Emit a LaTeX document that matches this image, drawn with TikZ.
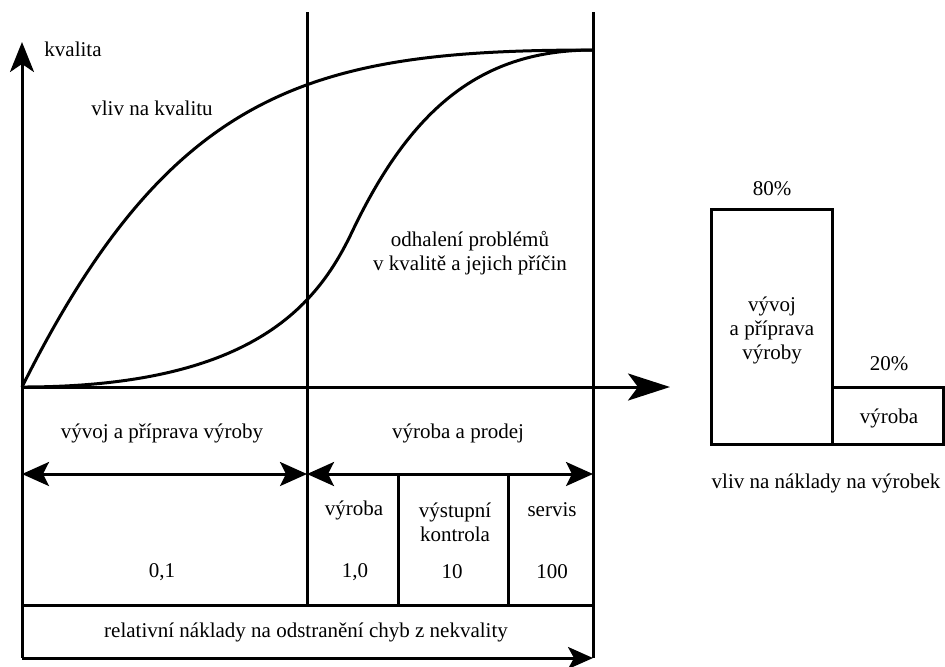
\documentclass[tikz,border=0pt]{standalone}
\usepackage{fontspec}
\setmainfont{Liberation Serif}
\newfontfamily\czserif{Liberation Serif}
\usetikzlibrary{arrows.meta}
\tikzset{
  line/.style={line width=1.5pt},
  axis/.style={line width=1.5pt, -{Stealth[length=15pt,width=12pt,inset=4pt]}},
  longaxis/.style={line width=1.5pt, -{Stealth[length=21pt,width=13.5pt,inset=5pt]}},
  spanarrow/.style={line width=1.5pt, {Stealth[length=13.5pt,width=12pt,inset=3pt]}-{Stealth[length=13.5pt,width=12pt,inset=3pt]}},
  costarrow/.style={line width=1.5pt, -{Stealth[length=12.5pt,width=11pt,inset=3pt]}},
  txt/.style={font=\czserif\fontsize{10.5}{12}\selectfont, inner sep=0pt, align=center},
}
\begin{document}
\begin{tikzpicture}[x=0.5pt, y=-0.5pt]
    \useasboundingbox (0,0) rectangle (945,666);
    \coordinate (o) at (22,387);
    \coordinate (ytop) at (22,42);
    \coordinate (xend) at (670,387);
    \coordinate (midtop) at (307,12);
    \coordinate (midbot) at (307,605);
    \coordinate (righttop) at (593,12);
    \coordinate (rightbot) at (593,658);
    \coordinate (leftbot) at (22,658);
    \coordinate (peak) at (593,50);
    \coordinate (infl) at (352,232);

    % Osy
    \draw[axis] (o) -- (ytop);
    \draw[longaxis] (o) -- (xend);
    \node[txt] (kval) at (73,49) {kvalita};

    % Svisle cary
    \draw[line] (midtop) -- (midbot);
    \draw[line] (righttop) -- (rightbot);
    \draw[line] (o) -- (leftbot);

    % Krivky
    \draw[line] (o) .. controls (172,87) and (313,50) .. (peak);
    \draw[line] (o) .. controls (252,387) and (317,305.5) .. (infl)
                    .. controls (412,106) and (483,50) .. (peak);
    \node[txt] (vliv) at (152,108) {vliv na kvalitu};
    \node[txt] (odhal) at (470,253) {odhalení problémů\\v kvalitě a jejich příčin};

    % Etapy
    \node[txt] (vyvoj) at (162,433) {vývoj a příprava výroby};
    \node[txt] (prodej) at (458,433) {výroba a prodej};
    \coordinate (a1) at (22,474);
    \coordinate (a2) at (307,474);
    \coordinate (a3) at (593,474);
    \draw[spanarrow] (a1) -- (a2);
    \draw[spanarrow] (a2) -- (a3);

    % Naklady
    \coordinate (s1) at (398,474);
    \coordinate (s2) at (508,474);
    \draw[line] (s1) -- (s1 |- midbot);
    \draw[line] (s2) -- (s2 |- midbot);
    \draw[line] (o |- midbot) -- (midbot -| rightbot);
    \node[txt] (vyr) at (354,510) {výroba};
    \node[txt] (kontr) at (455,522) {výstupní\\kontrola};
    \node[txt] (serv) at (552,510) {servis};
    \node[txt] (n1) at (162,572) {0,1};
    \node[txt] (n2) at (355,572) {1,0};
    \node[txt] (n3) at (452,572) {10};
    \node[txt] (n4) at (552,572) {100};
    \node[txt] (rel) at (306,632) {relativní náklady na odstranění chyb z nekvality};
    \draw[costarrow] (leftbot) -- (rightbot);

    % Sloupce
    \draw[line] (711,209) rectangle (832,444);
    \draw[line] (832,387) rectangle (943,444);
    \node[txt] (p80) at (772,189) {80\%};
    \node[txt] (bar1) at (772,330) {vývoj\\a příprava\\výroby};
    \node[txt] (p20) at (889,364) {20\%};
    \node[txt] (bar2) at (889,418) {výroba};
    \node[txt] (vlivn) at (826,483) {vliv na náklady na výrobek};
\end{tikzpicture}
\end{document}
